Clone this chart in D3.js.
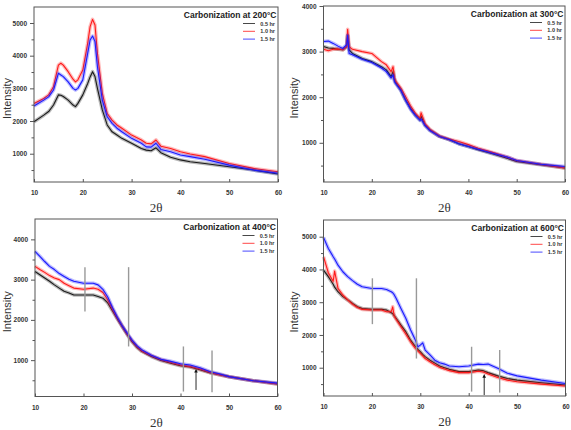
<!DOCTYPE html>
<html>
<head>
<meta charset="utf-8">
<script src="https://cdn.jsdelivr.net/npm/d3@7/dist/d3.min.js"></script>
<style>
    body { margin: 0; background: #fff; }
    svg text { font-family: "Liberation Sans", Arial, sans-serif; }
    .tick text { font-weight: bold; font-size: 6.5px; fill: #333; }
    .tick line { stroke: #555; }
</style>
</head>
<body>
<script>
    // 2theta positions (one array per panel) and intensities
    var x200 = [10, 12, 13, 14, 15, 15.5, 16, 17, 18, 18.5, 19, 20, 21, 21.5, 22, 22.5, 23, 24, 25, 26, 27, 28, 30, 32, 33, 34, 35, 36, 38, 40, 42, 45, 50, 55, 60];
    var black200 = [1980, 2180, 2290, 2490, 2800, 2790, 2750, 2640, 2490, 2440, 2540, 2800, 3150, 3350, 3510, 3360, 3000, 2340, 1880, 1670, 1570, 1470, 1320, 1160, 1110, 1090, 1180, 1030, 890, 810, 755, 700, 600, 500, 380];
    var red200 = [2540, 2690, 2800, 3050, 3710, 3770, 3710, 3510, 3280, 3200, 3260, 3560, 4380, 4890, 5110, 4940, 4070, 2850, 2230, 2030, 1880, 1780, 1570, 1420, 1320, 1300, 1420, 1230, 1160, 1060, 990, 910, 700, 550, 450];
    var blue200 = [2460, 2640, 2740, 2950, 3460, 3410, 3360, 3200, 3000, 2950, 3000, 3260, 4070, 4480, 4600, 4430, 3660, 2640, 2130, 1930, 1780, 1670, 1470, 1320, 1210, 1200, 1320, 1130, 1060, 960, 910, 830, 650, 500, 400];

    var x300 = [10, 11, 12, 13, 14, 14.8, 15, 15.3, 16, 18, 20, 22, 23, 24, 24.4, 24.7, 25, 26, 27, 28, 29, 30, 30.2, 31, 32, 34, 36, 38, 40, 42, 45, 48, 50, 55, 60];
    var black300 = [3110, 3080, 3070, 3050, 3040, 3110, 3350, 3040, 2960, 2850, 2780, 2670, 2600, 2450, 2560, 2380, 2310, 2160, 1940, 1760, 1610, 1500, 1580, 1390, 1280, 1140, 1070, 980, 920, 850, 760, 660, 590, 520, 450];
    var red300 = [3050, 3020, 3050, 3060, 3040, 3110, 3490, 3110, 3050, 3000, 2960, 2780, 2710, 2560, 2670, 2420, 2340, 2200, 2010, 1810, 1650, 1540, 1660, 1420, 1300, 1150, 1080, 1030, 960, 880, 790, 690, 610, 530, 450];
    var blue300 = [3220, 3230, 3180, 3120, 3070, 3150, 3360, 2960, 2930, 2830, 2760, 2640, 2560, 2420, 2490, 2340, 2290, 2150, 1930, 1740, 1600, 1490, 1520, 1380, 1270, 1140, 1070, 980, 920, 860, 770, 690, 610, 530, 480];

    var x400 = [10, 11, 12, 13, 14, 15, 16, 17, 18, 20, 22, 23, 24, 25, 26, 27, 28, 29, 30, 31, 32, 34, 36, 38, 40, 42, 44, 46, 48, 50, 55, 60];
    var black400 = [3200, 3120, 3040, 2960, 2870, 2790, 2710, 2670, 2620, 2620, 2620, 2580, 2540, 2420, 2220, 2020, 1830, 1640, 1460, 1320, 1220, 1090, 990, 925, 860, 830, 760, 690, 640, 590, 490, 410];
    var red400 = [3330, 3250, 3180, 3100, 3040, 3000, 2910, 2850, 2790, 2760, 2790, 2760, 2680, 2500, 2260, 2040, 1840, 1650, 1480, 1340, 1230, 1110, 1010, 940, 880, 840, 780, 700, 640, 590, 490, 410];
    var blue400 = [3700, 3580, 3450, 3330, 3250, 3150, 3080, 3010, 2960, 2910, 2910, 2870, 2760, 2570, 2300, 2060, 1850, 1670, 1500, 1360, 1260, 1120, 1020, 970, 910, 880, 810, 720, 660, 590, 490, 430];

    var x600 = [10, 11, 12, 12.3, 13, 14, 15, 16, 17, 18, 20, 22, 23, 24, 24.3, 24.6, 25, 26, 27, 28, 29, 29.5, 30, 30.5, 31, 32, 33, 34, 35, 36, 38, 40, 42, 43, 44, 46, 48, 50, 55, 60];
    var black600 = [3980, 3780, 3550, 3460, 3320, 3170, 3070, 2960, 2860, 2810, 2780, 2780, 2760, 2680, 2650, 2590, 2510, 2300, 2100, 1840, 1640, 1560, 1490, 1410, 1340, 1230, 1140, 1050, 1000, 950, 880, 880, 930, 910, 850, 750, 670, 620, 540, 470];
    var red600 = [4390, 3900, 3640, 3950, 3420, 3220, 3070, 2940, 2840, 2780, 2760, 2760, 2710, 2710, 2860, 2580, 2480, 2250, 2030, 1790, 1590, 1510, 1440, 1360, 1280, 1180, 1090, 1010, 960, 910, 850, 850, 890, 870, 810, 700, 620, 570, 500, 440];
    var blue600 = [4980, 4640, 4390, 4320, 4130, 3930, 3780, 3660, 3550, 3470, 3420, 3420, 3390, 3320, 3290, 3230, 3120, 2810, 2510, 2150, 1840, 1640, 1690, 1760, 1540, 1390, 1230, 1150, 1110, 1050, 1030, 1050, 1110, 1100, 1110, 980, 830, 750, 620, 520];

    // grey marker lines (2theta, top, bottom) and arrow (2theta, tail, head)
    var refX400 = [20.3, 29.3, 40.6, 46.5], refTop400 = [3310, 3310, 1340, 1240], refBot400 = [2210, 1340, 220, 200];
    var arrow400 = [43.2, 260, 735];
    var refX600 = [20.1, 29.2, 40.6, 46.4], refTop600 = [3730, 3730, 1640, 1540], refBot600 = [2330, 1280, 270, 240];
    var arrow600 = [43.2, 165, 750];

    var legendLabels = ['0.5 hr', '1.0 hr', '1.5 hr'];
    var colors = ['#1a1a1a', '#ff1a1a', '#1a1aff'];
    var xTicks = [10, 20, 30, 40, 50, 60];

    var panels = [
        { l: 34, r: 278, t: 7, b: 182, ix: 10.5, yDom: [134, 5490], yMax: 5000, xs: x200, ys: [black200, red200, blue200], title: 'Carbonization at 200°C' },
        { l: 323.5, r: 565, t: 6, b: 182, ix: 297.5, yDom: [140, 4000], yMax: 4000, xs: x300, ys: [black300, red300, blue300], title: 'Carbonization at 300°C' },
        { l: 35, r: 277.5, t: 219, b: 396.5, ix: 10.5, yDom: [97, 4506], yMax: 4000, xs: x400, ys: [black400, red400, blue400], title: 'Carbonization at 400°C',
          refs: [refX400, refTop400, refBot400], arrow: arrow400 },
        { l: 323.5, r: 565.5, t: 220, b: 396, ix: 297.5, yDom: [136, 5510], yMax: 5000, xs: x600, ys: [black600, red600, blue600], title: 'Carbonization at 600°C',
          refs: [refX600, refTop600, refBot600], arrow: arrow600 }
    ];

    var svg = d3.select('body').append('svg')
        .attr('width', 571)
        .attr('height', 430);

    svg.append('defs').append('marker')
        .attr('id', 'head')
        .attr('viewBox', '0 0 10 10')
        .attr('refX', 5).attr('refY', 5)
        .attr('markerWidth', 4).attr('markerHeight', 4)
        .attr('orient', 'auto')
        .append('path').attr('d', 'M0,0 L10,5 L0,10 z').attr('fill', '#111');

    panels.forEach(function (p) {
        var x = d3.scaleLinear().domain([10, 60]).range([p.l, p.r]);
        var y = d3.scaleLinear().domain(p.yDom).range([p.b, p.t]);
        var g = svg.append('g');

        // series: a soft wide stroke for the noise band, then the line itself
        var line = d3.line()
            .x(function (d) { return x(d[0]); })
            .y(function (d) { return y(d[1]); });
        p.ys.forEach(function (vals, i) {
            var pts = p.xs.map(function (v, j) { return [v, vals[j]]; });
            g.append('path').datum(pts)
                .attr('d', line)
                .attr('fill', 'none')
                .attr('stroke', colors[i])
                .attr('stroke-opacity', 0.3)
                .attr('stroke-width', 3.6)
                .attr('stroke-linejoin', 'round');
            g.append('path').datum(pts)
                .attr('d', line)
                .attr('fill', 'none')
                .attr('stroke', colors[i])
                .attr('stroke-width', 1.1)
                .attr('stroke-linejoin', 'round');
        });

        if (p.refs) {
            g.selectAll('.ref').data(p.refs[0]).enter().append('line')
                .attr('x1', function (d) { return x(d); })
                .attr('x2', function (d) { return x(d); })
                .attr('y1', function (d, i) { return y(p.refs[1][i]); })
                .attr('y2', function (d, i) { return y(p.refs[2][i]); })
                .attr('stroke', '#999')
                .attr('stroke-width', 1.4);
            g.append('line')
                .attr('x1', x(p.arrow[0])).attr('x2', x(p.arrow[0]))
                .attr('y1', y(p.arrow[1])).attr('y2', y(p.arrow[2]))
                .attr('stroke', '#111')
                .attr('stroke-width', 0.9)
                .attr('marker-end', 'url(#head)');
        }

        // frame
        g.append('rect')
            .attr('x', p.l).attr('y', p.t)
            .attr('width', p.r - p.l).attr('height', p.b - p.t)
            .attr('fill', 'none')
            .attr('stroke', '#555')
            .attr('stroke-width', 1);

        var major = d3.range(1000, p.yMax + 1, 1000);
        var minor = d3.range(500, p.yMax, 1000).filter(function (v) { return v > p.yDom[0]; });

        var ya = g.append('g').attr('transform', 'translate(' + p.l + ',0)')
            .call(d3.axisLeft(y).tickValues(major).tickSize(4).tickPadding(3).tickFormat(d3.format('d')));
        ya.select('.domain').remove();
        var ym = g.append('g').attr('transform', 'translate(' + p.l + ',0)')
            .call(d3.axisLeft(y).tickValues(minor).tickSize(2.5).tickFormat(''));
        ym.select('.domain').remove();

        var xa = g.append('g').attr('transform', 'translate(0,' + p.b + ')')
            .call(d3.axisBottom(x).tickValues(xTicks).tickSizeInner(-3).tickSizeOuter(0).tickPadding(8.5));
        xa.select('.domain').remove();

        // axis titles
        g.append('text')
            .attr('transform', 'translate(' + p.ix + ',' + ((p.t + p.b) / 2 + 4) + ') rotate(-90)')
            .attr('text-anchor', 'middle')
            .attr('font-size', 11)
            .attr('fill', '#333')
            .text('Intensity');
        g.append('text')
            .attr('x', (p.l + p.r) / 2)
            .attr('y', p.b + 30)
            .attr('text-anchor', 'middle')
            .attr('font-size', 13)
            .attr('fill', '#333')
            .style('font-family', '"Liberation Serif", "DejaVu Serif", serif')
            .text('2θ');

        // title and legend
        g.append('text')
            .attr('x', p.r - 1.5)
            .attr('y', p.t + 10.5)
            .attr('text-anchor', 'end')
            .attr('font-size', 8.5)
            .attr('font-weight', 'bold')
            .attr('fill', '#222')
            .text(p.title);
        legendLabels.forEach(function (lab, i) {
            var ly = p.t + 16.5 + i * 7.8;
            g.append('line')
                .attr('x1', p.r - 35).attr('x2', p.r - 23)
                .attr('y1', ly).attr('y2', ly)
                .attr('stroke', colors[i])
                .attr('stroke-opacity', 0.8)
                .attr('stroke-width', 1);
            g.append('text')
                .attr('x', p.r - 3)
                .attr('y', ly + 2)
                .attr('text-anchor', 'end')
                .attr('font-size', 5.5)
                .attr('font-weight', 'bold')
                .attr('fill', '#333')
                .text(lab);
        });
    });
</script>
</body>
</html>
